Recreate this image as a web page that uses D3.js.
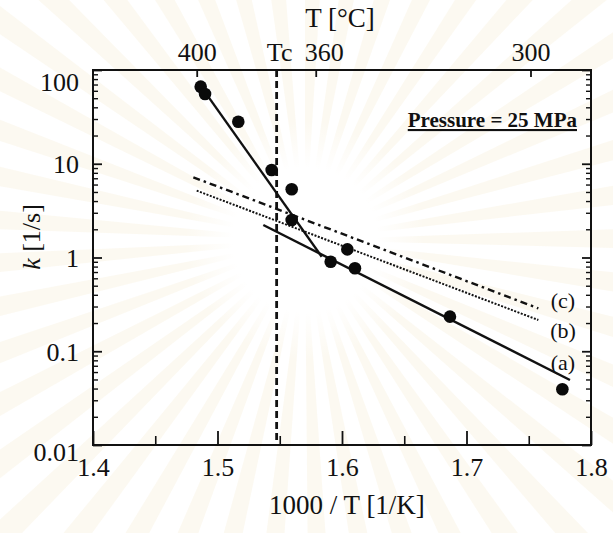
<!DOCTYPE html>
<html><head><meta charset="utf-8">
<script src="https://cdn.jsdelivr.net/npm/d3@7"></script>
<style>
body{margin:0;background:#fff;}
svg{display:block;}
text{font-family:"Liberation Serif","Times New Roman",serif;fill:#111;}
</style>
</head><body>
<svg id="chart" width="613" height="533"></svg>
<script>
// ---- data ----
const pointX = [1.4865, 1.4900, 1.5167, 1.5435, 1.5596, 1.5596, 1.5909, 1.6043, 1.6104, 1.6867, 1.7770];
const pointK = [66.4, 55.5, 28.1, 8.58, 5.34, 2.51, 0.902, 1.22, 0.767, 0.234, 0.0393];
const steepX = [1.4870, 1.5837];
const steepK = [66.0, 1.02];
const lineAX = [1.5368, 1.7831];
const lineAK = [2.22, 0.0494];
const lineBX = [1.4833, 1.7577];
const lineBK = [5.16, 0.2154];
const lineCX = [1.4806, 1.7577];
const lineCK = [7.17, 0.287];
const tcX = 1.5475;
const xTicks = [1.4, 1.5, 1.6, 1.7, 1.8];
const xTickLabels = ["1.4", "1.5", "1.6", "1.7", "1.8"];
const xMinor = [1.45, 1.55, 1.65, 1.75];
const yTicks = [0.01, 0.1, 1, 10, 100];
const yTickLabels = ["0.01", "0.1", "1", "10", "100"];
const topTickX = [1.4833, 1.5789, 1.7514];
const topTickLabels = ["400", "360", "300"];
const curveNames = ["(a)", "(b)", "(c)"];
const curveLabelX = [1.7775, 1.7775, 1.7775];
const curveLabelK = [0.0767, 0.169, 0.352];

// ---- layout ----
const W = 613, H = 533;
const m = {left: 93, right: 22, top: 70, bottom: 88};
const svg = d3.select("#chart");
const x = d3.scaleLinear().domain([1.4, 1.8]).range([m.left, W - m.right]);
const y = d3.scaleLog().domain([0.01, 100]).range([H - m.bottom, m.top]);
const x0 = x.range()[0], x1 = x.range()[1], y0 = y.range()[0], y1 = y.range()[1];

// faint watermark rays in background
const cx = 305, cy = 240;
const defs = svg.append("defs");
const rays = d3.range(0, 360, 8);
const arc = d3.arc().innerRadius(0).outerRadius(430);
svg.append("g").attr("transform", `translate(${cx},${cy})`)
  .selectAll("path").data(rays).join("path")
  .attr("d", a => arc({startAngle: a * Math.PI / 180, endAngle: (a + 3.5) * Math.PI / 180}))
  .attr("fill", "#f6ecd2").attr("fill-opacity", 0.3);
const wg = defs.append("radialGradient").attr("id", "core");
wg.append("stop").attr("offset", "0.6").attr("stop-color", "#fff").attr("stop-opacity", 1);
wg.append("stop").attr("offset", "1").attr("stop-color", "#fff").attr("stop-opacity", 0);
svg.append("circle").attr("cx", cx).attr("cy", cy).attr("r", 120).attr("fill", "url(#core)");

// frame
svg.append("rect").attr("x", x0).attr("y", y1).attr("width", x1 - x0).attr("height", y0 - y1)
  .attr("fill", "none").attr("stroke", "#111").attr("stroke-width", 2);

// bottom ticks (inward)
const bottomAxis = d3.axisBottom(x).tickValues(xTicks).tickSize(-14).tickFormat((d, i) => xTickLabels[i]).tickPadding(18);
const gb = svg.append("g").attr("transform", `translate(0,${y0})`).call(bottomAxis);
gb.select(".domain").remove();
gb.selectAll(".tick line").attr("stroke", "#111").attr("stroke-width", 1.8);
gb.selectAll("text").attr("font-size", 26).attr("fill", "#111").attr("dy", "0.5em");
const gbm = svg.append("g").attr("transform", `translate(0,${y0})`)
  .call(d3.axisBottom(x).tickValues(xMinor).tickSize(-9).tickFormat(""));
gbm.select(".domain").remove();
gbm.selectAll(".tick line").attr("stroke", "#111").attr("stroke-width", 1.6);

// left axis
const leftAxis = d3.axisLeft(y).tickValues(yTicks).tickSize(-9).tickPadding(14).tickFormat((d, i) => yTickLabels[i]);
const gl = svg.append("g").attr("transform", `translate(${x0},0)`).call(leftAxis);
gl.select(".domain").remove();
gl.selectAll(".tick line").attr("stroke", "#111").attr("stroke-width", 1.8);
gl.selectAll("text").attr("font-size", 26).attr("fill", "#111")
  .attr("dy", d => d === 100 ? "0.8em" : (d === 0.01 ? "0.6em" : "0.35em"));
const minorK = [];
for (let e = -2; e < 2; e++) for (let k = 2; k <= 9; k++) minorK.push(k * Math.pow(10, e));
const glm = svg.append("g").attr("transform", `translate(${x0},0)`)
  .call(d3.axisLeft(y).tickValues(minorK).tickSize(-5).tickFormat(""));
glm.select(".domain").remove();
glm.selectAll(".tick line").attr("stroke", "#111").attr("stroke-width", 1.4);

// right axis (ticks only)
const gr = svg.append("g").attr("transform", `translate(${x1},0)`)
  .call(d3.axisRight(y).tickValues(yTicks).tickSize(-9).tickFormat(""));
gr.select(".domain").remove();
gr.selectAll(".tick line").attr("stroke", "#111").attr("stroke-width", 1.8);
const grm = svg.append("g").attr("transform", `translate(${x1},0)`)
  .call(d3.axisRight(y).tickValues(minorK).tickSize(-5).tickFormat(""));
grm.select(".domain").remove();
grm.selectAll(".tick line").attr("stroke", "#111").attr("stroke-width", 1.4);

// top axis (temperature)
const topAxis = d3.axisTop(x).tickValues(topTickX).tickSize(-7).tickPadding(9).tickFormat((d, i) => topTickLabels[i]);
const gt = svg.append("g").attr("transform", `translate(0,${y1})`).call(topAxis);
gt.select(".domain").remove();
gt.selectAll(".tick line").attr("stroke", "#111").attr("stroke-width", 1.8);
gt.selectAll("text").attr("font-size", 26).attr("fill", "#111")
  .attr("dx", (d, i) => topTickLabels[i] === "360" ? 8 : 0);
svg.append("text").attr("x", x(tcX) + 3).attr("y", y1 - 9).attr("text-anchor", "middle")
  .attr("font-size", 26).text("Tc");

// titles
svg.append("text").attr("x", 340).attr("y", 27).attr("text-anchor", "middle").attr("font-size", 27).text("T [\u00B0C]");
svg.append("text").attr("x", 347).attr("y", 514).attr("text-anchor", "middle").attr("font-size", 27).text("1000 / T [1/K]");
const yl = svg.append("text").attr("transform", "translate(40,237) rotate(-90)").attr("text-anchor", "middle").attr("font-size", 26);
yl.append("tspan").attr("font-style", "italic").text("k");
yl.append("tspan").text(" [1/s]");

// Tc dashed line
svg.append("line").attr("x1", x(tcX)).attr("x2", x(tcX)).attr("y1", y1).attr("y2", y0)
  .attr("stroke", "#111").attr("stroke-width", 2.8).attr("stroke-dasharray", "7,4");

// lines
const lineGen = d3.line().x(d => x(d[0])).y(d => y(d[1]));
function drawLine(xs, ks, dash, w) {
  svg.append("path").datum(xs.map((v, i) => [v, ks[i]])).attr("d", lineGen)
    .attr("fill", "none").attr("stroke", "#111").attr("stroke-width", w)
    .attr("stroke-dasharray", dash);
}
drawLine(lineCX, lineCK, "7,4,2.5,4", 2.4);
drawLine(lineBX, lineBK, "2,1.5", 2.0);
drawLine(lineAX, lineAK, null, 2.4);
drawLine(steepX, steepK, null, 2.4);

// points
svg.append("g").selectAll("circle").data(pointX.map((v, i) => [v, pointK[i]])).join("circle")
  .attr("cx", d => x(d[0])).attr("cy", d => y(d[1])).attr("r", 6.3).attr("fill", "#0a0a0a");

// curve labels
svg.append("g").selectAll("text").data(curveNames).join("text")
  .attr("x", (d, i) => x(curveLabelX[i])).attr("y", (d, i) => y(curveLabelK[i]))
  .attr("dy", "0.35em").attr("text-anchor", "middle").attr("font-size", 22).text(d => d);

// pressure annotation
svg.append("text").attr("x", 577).attr("y", 127).attr("text-anchor", "end")
  .attr("font-size", 21).attr("font-weight", "bold").attr("text-decoration", "underline").text("Pressure = 25 MPa");
</script>
</body></html>
